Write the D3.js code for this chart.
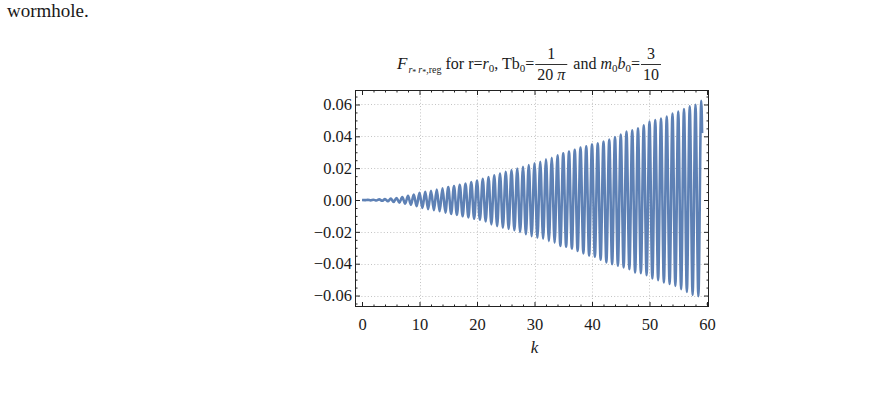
<!DOCTYPE html>
<html>
<head>
<meta charset="utf-8">
<script src="https://cdn.jsdelivr.net/npm/d3@7"></script>
<style>
  html, body { margin: 0; padding: 0; background: #fff; }
  svg { display: block; }
  text { font-family: "Liberation Serif", "DejaVu Serif", serif; fill: #1a1a1a; white-space: pre; }
</style>
</head>
<body>
<svg id="chart" width="871" height="403"></svg>
<script>
// ---------- data ----------
const kValues = [
  0, 0.5, 1, 1.5, 2, 2.5, 3, 3.5, 4, 4.5, 5, 5.5, 6, 6.5, 7, 7.5, 8, 8.5, 9, 9.5,
  10, 10.5, 11, 11.5, 12, 12.5, 13, 13.5, 14, 14.5, 15, 15.5, 16, 16.5, 17, 17.5, 18, 18.5, 19, 19.5,
  20, 20.5, 21, 21.5, 22, 22.5, 23, 23.5, 24, 24.5, 25, 25.5, 26, 26.5, 27, 27.5, 28, 28.5, 29, 29.5,
  30, 30.5, 31, 31.5, 32, 32.5, 33, 33.5, 34, 34.5, 35, 35.5, 36, 36.5, 37, 37.5, 38, 38.5, 39, 39.5,
  40, 40.5, 41, 41.5, 42, 42.5, 43, 43.5, 44, 44.5, 45, 45.5, 46, 46.5, 47, 47.5, 48, 48.5, 49, 49.5,
  50, 50.5, 51, 51.5, 52, 52.5, 53, 53.5, 54, 54.5, 55, 55.5, 56, 56.5, 57, 57.5, 58, 58.5, 59, 59.15
];
const fValues = [
  0, -0.0001, 0.0001, -0.0002, 0.0002, -0.0003, 0.0004, -0.0005, 0.0006, -0.0008,
  0.0009, -0.0012, 0.0013, -0.0017, 0.0018, -0.0023, 0.0026, -0.0030, 0.0034, -0.0039,
  0.0045, -0.0050, 0.0051, -0.0057, 0.0058, -0.0064, 0.0066, -0.0071, 0.0073, -0.0079,
  0.0081, -0.0087, 0.0088, -0.0094, 0.0096, -0.0102, 0.0104, -0.0110, 0.0113, -0.0118,
  0.0122, -0.0124, 0.0133, -0.0134, 0.0144, -0.0153, 0.0155, -0.0164, 0.0166, -0.0174,
  0.0177, -0.0181, 0.0188, -0.0190, 0.0198, -0.0201, 0.0209, -0.0215, 0.0219, -0.0227,
  0.0231, -0.0237, 0.0240, -0.0243, 0.0255, -0.0258, 0.0265, -0.0268, 0.0281, -0.0288,
  0.0294, -0.0293, 0.0304, -0.0305, 0.0315, -0.0320, 0.0330, -0.0335, 0.0338, -0.0350,
  0.0350, -0.0356, 0.0356, -0.0375, 0.0367, -0.0392, 0.0379, -0.0403, 0.0396, -0.0413,
  0.0411, -0.0423, 0.0430, -0.0434, 0.0438, -0.0455, 0.0451, -0.0459, 0.0470, -0.0472,
  0.0493, -0.0493, 0.0503, -0.0503, 0.0512, -0.0518, 0.0524, -0.0528, 0.0543, -0.0539,
  0.0556, -0.0560, 0.0571, -0.0577, 0.0588, -0.0596, 0.0598, -0.0604, 0.0623, 0.0420
];
const xTickValues = [0, 10, 20, 30, 40, 50, 60];
const xTickLabels = ["0", "10", "20", "30", "40", "50", "60"];
const yTickValues = [-0.06, -0.04, -0.02, 0, 0.02, 0.04, 0.06];
const yTickLabels = ["\u22120.06", "\u22120.04", "\u22120.02", "0.00", "0.02", "0.04", "0.06"];
const xGridValues = [10, 20, 30, 40, 50];
const yGridValues = [-0.06, -0.04, -0.02, 0.02, 0.04, 0.06];
const xAxisLabel = "k";
const pageText = "wormhole.";

// ---------- layout ----------
const svg = d3.select("#chart");
const frame = { left: 355, right: 709, top: 90, bottom: 307 };
const x = d3.scaleLinear().domain([-1.22, 60.35]).range([frame.left, frame.right]);
const y = d3.scaleLinear().domain([-0.0672, 0.0691]).range([frame.bottom, frame.top]);
const lineColor = "#5E81B5";
const frameColor = "#222";
const fontSize = 16.5;

// fragment of surrounding document text
svg.append("text").attr("x", 7).attr("y", 17)
  .style("font-size", "19px").text(pageText);

// grid lines
const grid = svg.append("g").attr("stroke", "#c4c4c4").attr("stroke-width", 1)
  .attr("stroke-dasharray", "1,2.2");
grid.selectAll(".gx").data(xGridValues).join("line")
  .attr("x1", d => Math.round(x(d)) + 0.5).attr("x2", d => Math.round(x(d)) + 0.5)
  .attr("y1", frame.top).attr("y2", frame.bottom);
grid.selectAll(".gy").data(yGridValues).join("line")
  .attr("y1", d => Math.round(y(d)) + 0.5).attr("y2", d => Math.round(y(d)) + 0.5)
  .attr("x1", frame.left).attr("x2", frame.right);

// curve
svg.append("clipPath").attr("id", "clip").append("rect")
  .attr("x", frame.left).attr("y", frame.top)
  .attr("width", frame.right - frame.left).attr("height", frame.bottom - frame.top);
const series = kValues.map((k, i) => [k, fValues[i]]);
svg.append("path").datum(series)
  .attr("clip-path", "url(#clip)")
  .attr("fill", "none").attr("stroke", lineColor).attr("stroke-width", 2.6)
  .attr("stroke-linejoin", "round")
  .attr("d", d3.line().x(d => x(d[0])).y(d => y(d[1])).curve(d3.curveMonotoneX));

// axes (ticks inward on all four sides)
const xMinor = d3.range(0, 61, 2).filter(v => v % 10 !== 0);
const yMinor = d3.range(-65, 66, 5).map(v => v / 1000).filter(v => Math.round(v * 1000) % 20 !== 0);

function styleAxis(g) {
  g.select(".domain").remove();
  g.selectAll(".tick line").attr("stroke", frameColor);
  g.selectAll(".tick text").style("font-size", fontSize + "px")
    .style("font-family", '"Liberation Serif", serif').attr("fill", "#1a1a1a");
}

svg.append("g").attr("transform", `translate(0,${frame.bottom})`)
  .call(d3.axisBottom(x).tickValues(xTickValues).tickSizeInner(-5).tickSizeOuter(0)
    .tickPadding(11).tickFormat((d, i) => xTickLabels[i])).call(styleAxis);
svg.append("g").attr("transform", `translate(0,${frame.bottom})`)
  .call(d3.axisBottom(x).tickValues(xMinor).tickSizeInner(-2.5).tickSizeOuter(0).tickFormat(""))
  .call(styleAxis);
svg.append("g").attr("transform", `translate(0,${frame.top})`)
  .call(d3.axisTop(x).tickValues(xTickValues).tickSizeInner(-5).tickSizeOuter(0).tickFormat(""))
  .call(styleAxis);
svg.append("g").attr("transform", `translate(0,${frame.top})`)
  .call(d3.axisTop(x).tickValues(xMinor).tickSizeInner(-2.5).tickSizeOuter(0).tickFormat(""))
  .call(styleAxis);

svg.append("g").attr("transform", `translate(${frame.left},0)`)
  .call(d3.axisLeft(y).tickValues(yTickValues).tickSizeInner(-5).tickSizeOuter(0)
    .tickPadding(3).tickFormat((d, i) => yTickLabels[i])).call(styleAxis);
svg.append("g").attr("transform", `translate(${frame.left},0)`)
  .call(d3.axisLeft(y).tickValues(yMinor).tickSizeInner(-2.5).tickSizeOuter(0).tickFormat(""))
  .call(styleAxis);
svg.append("g").attr("transform", `translate(${frame.right},0)`)
  .call(d3.axisRight(y).tickValues(yTickValues).tickSizeInner(-5).tickSizeOuter(0).tickFormat(""))
  .call(styleAxis);
svg.append("g").attr("transform", `translate(${frame.right},0)`)
  .call(d3.axisRight(y).tickValues(yMinor).tickSizeInner(-2.5).tickSizeOuter(0).tickFormat(""))
  .call(styleAxis);

// frame
svg.append("rect")
  .attr("x", frame.left + 0.5).attr("y", frame.top + 0.5)
  .attr("width", frame.right - frame.left - 1).attr("height", frame.bottom - frame.top - 1)
  .attr("fill", "none").attr("stroke", frameColor).attr("stroke-width", 1);

// axis label
svg.append("text").attr("x", (x(0) + x(60)) / 2).attr("y", 353)
  .attr("text-anchor", "middle").style("font-size", "17px").style("font-style", "italic")
  .text(xAxisLabel);

// ---------- title (laid out piece by piece) ----------
const title = svg.append("g");
const base = 69;
const tfs = 16;
let cx = 0;
function piece(txt, opts = {}) {
  const fs = opts.size || tfs;
  const t = title.append("text").attr("x", cx).attr("y", base + (opts.dy || 0))
    .style("font-size", fs + "px").style("font-style", opts.italic ? "italic" : "normal")
    .text(txt);
  cx += t.node().getComputedTextLength() + (opts.after || 0);
  return t;
}
function fraction(num, den, denItalicLast) {
  const g = title.append("g");
  const n = g.append("text").attr("y", base - 10).style("font-size", tfs + "px").text(num);
  const d = g.append("text").attr("y", base + 10.5).style("font-size", tfs + "px");
  if (denItalicLast) {
    d.append("tspan").text(den[0]);
    d.append("tspan").style("font-style", "italic").text(den[1]);
  } else d.text(den);
  const wn = n.node().getComputedTextLength();
  const wd = d.node().getComputedTextLength();
  const w = Math.max(wn, wd) + 4;
  n.attr("x", cx + (w - wn) / 2);
  d.attr("x", cx + (w - wd) / 2);
  g.append("line").attr("x1", cx).attr("x2", cx + w)
    .attr("y1", base - 4.5).attr("y2", base - 4.5).attr("stroke", "#1a1a1a").attr("stroke-width", 0.9);
  cx += w + 2;
}
piece("F", { italic: true, size: 17, after: 1 });
piece("r", { italic: true, size: 10, dy: 4 });
piece("*", { size: 8, dy: 6, after: 2 });
piece("r", { italic: true, size: 10, dy: 4 });
piece("*", { size: 8, dy: 6 });
piece(",reg", { size: 10, dy: 4 });
piece(" for r=");
piece("r", { italic: true });
piece("0", { size: 11, dy: 3 });
piece(", Tb");
piece("0", { size: 11, dy: 3 });
piece("=", { after: 1 });
fraction("1", ["20 ", "\u03C0"], true);
piece(" and ");
piece("m", { italic: true });
piece("0", { size: 11, dy: 3 });
piece("b", { italic: true });
piece("0", { size: 11, dy: 3 });
piece("=", { after: 1 });
fraction("3", "10", false);
const titleWidth = cx;
title.attr("transform", `translate(${530 - titleWidth / 2},0)`);
</script>
</body>
</html>
